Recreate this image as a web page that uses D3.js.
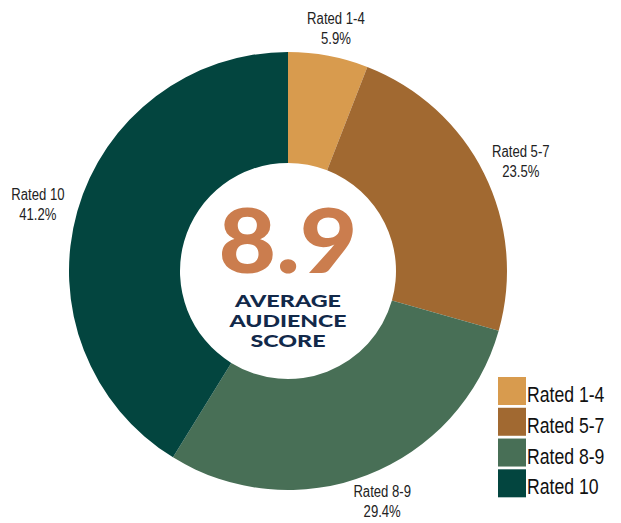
<!DOCTYPE html>
<html>
<head>
<meta charset="utf-8">
<script src="https://cdn.jsdelivr.net/npm/d3@7"></script>
<style>
  html, body { margin: 0; padding: 0; background: #fff; }
  svg { display: block; }
</style>
</head>
<body>
<svg id="chart" width="621" height="523"></svg>
<script>
const categories = ["Rated 1-4", "Rated 5-7", "Rated 8-9", "Rated 10"];
const values = [5.9, 23.5, 29.4, 41.2];
const colors = ["#D89B4E", "#A16931", "#486F56", "#03453F"];
const centerValue = "8.9";
const centerCaption = ["AVERAGE", "AUDIENCE", "SCORE"];

const svg = d3.select("#chart");
const cx = 288, cy = 271;
const outerR = 219, innerR = 108;
const labelFont = "'Liberation Sans', Arial, sans-serif";
const narrow = 0.82;

const g = svg.append("g").attr("transform", `translate(${cx},${cy})`);

const pie = d3.pie().sort(null).value(d => d.value);
const data = categories.map((c, i) => ({ name: c, value: values[i], color: colors[i] }));
const arcs = pie(data);

const arc = d3.arc().innerRadius(innerR).outerRadius(outerR);

g.selectAll("path.slice")
  .data(arcs)
  .join("path")
  .attr("class", "slice")
  .attr("d", arc)
  .attr("fill", d => d.data.color);

// outside labels
const labelR = 230;
arcs.forEach(d => {
  const a = (d.startAngle + d.endAngle) / 2;
  const s = Math.sin(a), c = Math.cos(a);
  const w = 60, h = 34;
  const x = labelR * s + s * w / 2;
  const y = -labelR * c - c * h / 2;
  const t = g.append("g")
    .attr("transform", `translate(${x},${y}) scale(${narrow},1)`)
    .append("text")
    .attr("text-anchor", "middle")
    .attr("font-family", labelFont)
    .attr("font-size", 16)
    .attr("fill", "#222");
  t.append("tspan").attr("x", 0).attr("y", -4).text(d.data.name);
  t.append("tspan").attr("x", 0).attr("y", 16).text(d3.format(".1f")(d.data.value) + "%");
});

// center text
g.append("text")
  .attr("text-anchor", "middle")
  .attr("x", 0)
  .attr("y", 2)
  .attr("font-family", "Lato, 'Open Sans', sans-serif")
  .attr("font-weight", 900)
  .attr("font-size", 90)
  .attr("fill", "#CB7D4E")
  .attr("textLength", 139)
  .attr("lengthAdjust", "spacingAndGlyphs")
  .text(centerValue);

const capWidths = [106, 117, 75];
centerCaption.forEach((line, i) => {
  g.append("text")
    .attr("text-anchor", "middle")
    .attr("x", 0)
    .attr("y", 36 + i * 20)
    .attr("font-family", "Lato, 'Open Sans', sans-serif")
    .attr("font-weight", 900)
    .attr("font-size", 17)
    .attr("fill", "#12294A")
    .attr("textLength", capWidths[i])
    .attr("lengthAdjust", "spacingAndGlyphs")
    .text(line);
});

// legend
const legend = svg.append("g").attr("transform", "translate(498,377)");
const ly = d3.scaleBand().domain(categories).range([0, 120]).paddingInner(0.1).paddingOuter(0);
const items = legend.selectAll("g.item")
  .data(data)
  .join("g")
  .attr("class", "item")
  .attr("transform", d => `translate(0,${ly(d.name)})`);
items.append("rect")
  .attr("width", 28)
  .attr("height", 28)
  .attr("fill", d => d.color);
items.append("g")
  .attr("transform", `translate(29,25) scale(${narrow},1)`)
  .append("text")
  .attr("font-family", labelFont)
  .attr("font-size", 21.5)
  .attr("fill", "#111")
  .text(d => d.name);
</script>
</body>
</html>
